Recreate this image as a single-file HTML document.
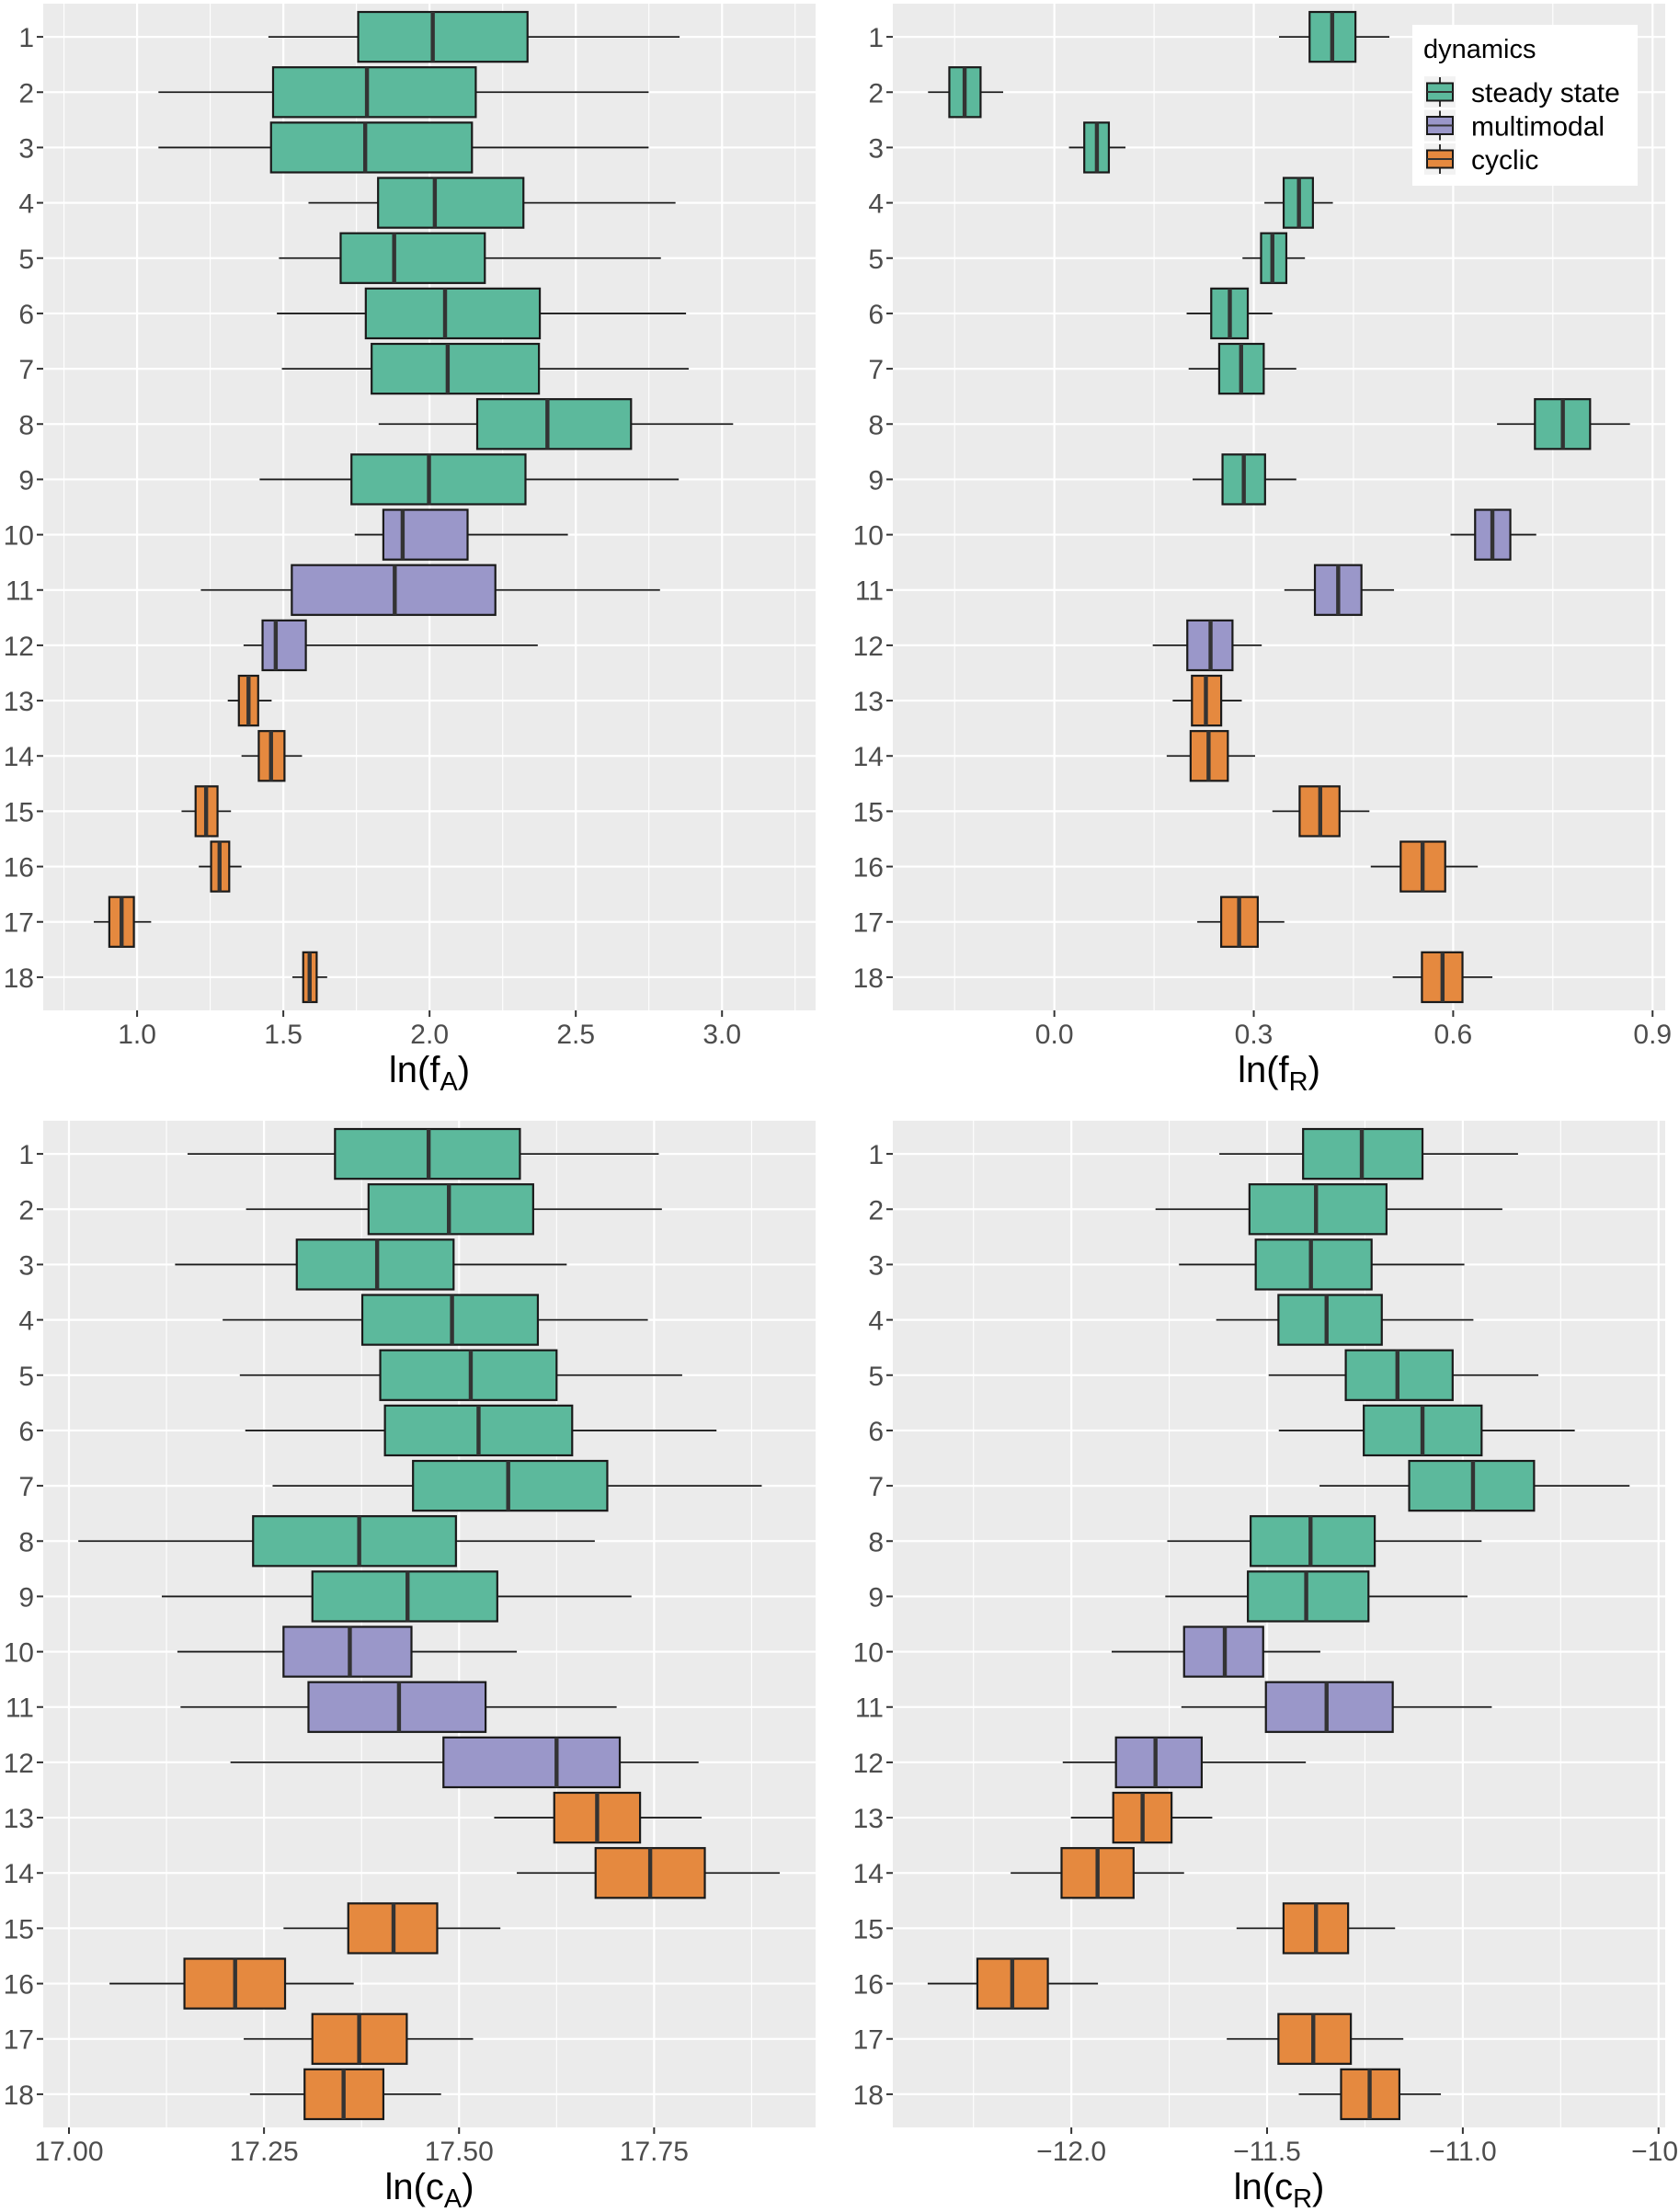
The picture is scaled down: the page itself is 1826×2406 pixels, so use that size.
<!DOCTYPE html>
<html><head><meta charset="utf-8">
<style>
html,body{margin:0;padding:0;background:#fff;}
svg{display:block;font-family:"Liberation Sans",Arial,sans-serif;}
</style></head>
<body>
<svg id="chart" width="1826" height="2406" viewBox="0 0 1826 2406" xmlns="http://www.w3.org/2000/svg"></svg>
<script>
// dynamics class per row (1..18)
const rows = ["1","2","3","4","5","6","7","8","9","10","11","12","13","14","15","16","17","18"];
const dyn = ["s","s","s","s","s","s","s","s","s","m","m","m","c","c","c","c","c","c"];

// Panel A: ln(fA)
const fA_lo  = [1.449,1.073,1.073,1.586,1.485,1.478,1.495,1.826,1.419,1.744,1.218,1.364,1.310,1.357,1.152,1.211,0.852,1.531];
const fA_q1  = [1.756,1.465,1.458,1.824,1.696,1.782,1.802,2.163,1.733,1.842,1.529,1.429,1.348,1.416,1.200,1.253,0.905,1.568];
const fA_med = [2.011,1.786,1.780,2.018,1.879,2.053,2.062,2.403,1.998,1.908,1.881,1.474,1.381,1.458,1.236,1.282,0.947,1.590];
const fA_q3  = [2.335,2.158,2.145,2.321,2.189,2.377,2.374,2.689,2.328,2.130,2.225,1.577,1.414,1.504,1.275,1.315,0.989,1.614];
const fA_hi  = [2.855,2.749,2.749,2.841,2.791,2.877,2.886,3.038,2.852,2.473,2.788,2.370,1.460,1.564,1.321,1.357,1.048,1.650];
const fA_ticks = [1.0,1.5,2.0,2.5,3.0];
const fA_tickLabels = ["1.0","1.5","2.0","2.5","3.0"];

// Panel B: ln(fR)
const fR_lo  = [0.338,-0.190,0.022,0.316,0.283,0.199,0.202,0.666,0.208,0.596,0.346,0.148,0.178,0.169,0.328,0.476,0.215,0.509];
const fR_q1  = [0.384,-0.158,0.045,0.345,0.311,0.236,0.248,0.723,0.253,0.633,0.392,0.200,0.207,0.205,0.369,0.521,0.251,0.553];
const fR_med = [0.418,-0.135,0.064,0.368,0.328,0.264,0.281,0.765,0.285,0.659,0.427,0.235,0.228,0.232,0.400,0.554,0.278,0.584];
const fR_q3  = [0.453,-0.111,0.082,0.389,0.349,0.291,0.315,0.806,0.317,0.686,0.462,0.268,0.251,0.261,0.429,0.588,0.306,0.614];
const fR_hi  = [0.504,-0.077,0.107,0.419,0.377,0.328,0.364,0.866,0.364,0.725,0.511,0.312,0.282,0.302,0.474,0.637,0.346,0.659];
const fR_ticks = [0.0,0.3,0.6,0.9];
const fR_tickLabels = ["0.0","0.3","0.6","0.9"];

// Panel C: ln(cA)
const cA_lo  = [17.152,17.227,17.136,17.197,17.219,17.226,17.261,17.012,17.119,17.139,17.143,17.207,17.545,17.574,17.275,17.052,17.224,17.232];
const cA_q1  = [17.341,17.384,17.292,17.376,17.399,17.405,17.441,17.236,17.312,17.275,17.307,17.480,17.622,17.675,17.358,17.148,17.312,17.302];
const cA_med = [17.461,17.487,17.395,17.491,17.515,17.525,17.563,17.372,17.434,17.360,17.423,17.625,17.677,17.745,17.416,17.213,17.372,17.352];
const cA_q3  = [17.578,17.595,17.493,17.601,17.625,17.645,17.690,17.496,17.549,17.439,17.534,17.706,17.732,17.815,17.472,17.277,17.433,17.403];
const cA_hi  = [17.756,17.760,17.638,17.742,17.786,17.830,17.888,17.674,17.721,17.574,17.702,17.807,17.811,17.911,17.553,17.365,17.518,17.477];
const cA_ticks = [17.00,17.25,17.50,17.75];
const cA_tickLabels = ["17.00","17.25","17.50","17.75"];

// Panel D: ln(cR)
const cR_lo  = [-11.622,-11.785,-11.725,-11.630,-11.496,-11.470,-11.366,-11.755,-11.760,-11.897,-11.719,-12.022,-12.001,-12.155,-11.578,-12.367,-11.603,-11.419];
const cR_q1  = [-11.408,-11.545,-11.529,-11.471,-11.299,-11.253,-11.137,-11.542,-11.549,-11.712,-11.503,-11.886,-11.893,-12.025,-11.458,-12.240,-11.471,-11.311];
const cR_med = [-11.258,-11.375,-11.388,-11.348,-11.167,-11.103,-10.974,-11.389,-11.400,-11.608,-11.348,-11.785,-11.818,-11.933,-11.375,-12.151,-11.382,-11.238];
const cR_q3  = [-11.103,-11.195,-11.233,-11.207,-11.026,-10.952,-10.818,-11.225,-11.241,-11.510,-11.179,-11.667,-11.744,-11.841,-11.293,-12.060,-11.286,-11.162];
const cR_hi  = [-10.859,-10.899,-10.996,-10.973,-10.807,-10.714,-10.574,-10.952,-10.988,-11.364,-10.926,-11.401,-11.640,-11.712,-11.173,-11.932,-11.152,-11.056];
const cR_ticks = [-12.0,-11.5,-11.0,-10.5];
const cR_tickLabels = ["\u221212.0","\u221211.5","\u221211.0","\u221210."];

const legendLabels = ["steady state","multimodal","cyclic"];
const fills = {s:"#5cb99c", m:"#9a97c9", c:"#e5893f"};

const NS = "http://www.w3.org/2000/svg";
const svg = document.getElementById("chart");
function mk(tag, attrs, parent){
  const e = document.createElementNS(NS, tag);
  for (const k in attrs) e.setAttribute(k, attrs[k]);
  (parent||svg).appendChild(e);
  return e;
}

function panel(name, px0, px1, py0, py1, dmin, dmax, lo, q1, med, q3, hi, ticks, tickLabels, titleMain, titleSub){
  const g = mk("g", {});
  
  
  const bg = mk("rect", {x:px0, y:py0, width:px1-px0, height:py1-py0, fill:"#ebebeb"}, g);
  
  
  const xs = v => px0 + (v - dmin) / (dmax - dmin) * (px1 - px0);
  const step = (py1 - py0) / (rows.length - 1 + 1.2);
  const ys = i => py0 + step * (0.6 + i);
  for (let i = 0; i < ticks.length + 1; i++) {
    const d = ticks[1] - ticks[0];
    const v = ticks[0] - d/2 + i*d;
    const x = xs(v);
    if (x > px0 && x < px1) {
      const l = mk("line", {x1:x, x2:x, y1:py0, y2:py1, stroke:"#fff", "stroke-width":1.1}, g);
      
      
    }
  }
  ticks.forEach((v, i) => {
    const x = xs(v);
    if (x <= px1 + 0.5) {
      const l = mk("line", {x1:x, x2:x, y1:py0, y2:py1, stroke:"#fff", "stroke-width":2.2}, g);
      
      
      const t = mk("line", {x1:x, x2:x, y1:py1, y2:py1+7, stroke:"#333", "stroke-width":2}, g);
      
      
    }
    const lab = mk("text", {x:x, y:py1+36, "font-size":30, fill:"#4d4d4d", "text-anchor":"middle"}, g);
    lab.textContent = tickLabels[i];
    
    
  });
  rows.forEach((r, i) => {
    const y = ys(i);
    const l = mk("line", {x1:px0, x2:px1, y1:y, y2:y, stroke:"#fff", "stroke-width":2.2}, g);
    
    
    const t = mk("line", {x1:px0-7, x2:px0, y1:y, y2:y, stroke:"#333", "stroke-width":2}, g);
    
    
    const lab = mk("text", {x:px0-10, y:y+11, "font-size":30, fill:"#4d4d4d", "text-anchor":"end"}, g);
    lab.textContent = r;
    
    
  });
  const bh = step * 0.9;
  rows.forEach((r, i) => {
    const y = ys(i);
    const bg2 = mk("g", {}, g);
    
    
    const w = mk("line", {x1:xs(lo[i]), x2:xs(hi[i]), y1:y, y2:y, stroke:"#1a1a1a", "stroke-width":1.8}, bg2);
    
    
    const b = mk("rect", {x:xs(q1[i]), y:y-bh/2, width:xs(q3[i])-xs(q1[i]), height:bh, fill:fills[dyn[i]], stroke:"#1a1a1a", "stroke-width":2.2}, bg2);
    
    
    const m = mk("line", {x1:xs(med[i]), x2:xs(med[i]), y1:y-bh/2, y2:y+bh/2, stroke:"#333", "stroke-width":4.4}, bg2);
    
    
  });
  const tt = mk("text", {x:(px0+px1)/2, y:py1+78, "font-size":40, fill:"#000", "text-anchor":"middle"}, g);
  
  
  tt.appendChild(document.createTextNode(titleMain));
  const sub = document.createElementNS(NS, "tspan");
  sub.setAttribute("font-size", 29); sub.setAttribute("dy", 9);
  sub.textContent = titleSub;
  tt.appendChild(sub);
  const cl = document.createElementNS(NS, "tspan");
  cl.setAttribute("dy", -9);
  cl.textContent = ")";
  tt.appendChild(cl);
}

panel("fa", 47, 887, 4, 1099, 0.679, 3.320, fA_lo, fA_q1, fA_med, fA_q3, fA_hi, fA_ticks, fA_tickLabels, "ln(f", "A");
panel("fr", 971, 1811, 4, 1099, -0.243, 0.919, fR_lo, fR_q1, fR_med, fR_q3, fR_hi, fR_ticks, fR_tickLabels, "ln(f", "R");
panel("ca", 47, 887, 1219, 2314, 16.967, 17.957, cA_lo, cA_q1, cA_med, cA_q3, cA_hi, cA_ticks, cA_tickLabels, "ln(c", "A");
panel("cr", 971, 1811, 1219, 2314, -12.456, -10.483, cR_lo, cR_q1, cR_med, cR_q3, cR_hi, cR_ticks, cR_tickLabels, "ln(c", "R");

// legend
const lg = mk("g", {});


const lr = mk("rect", {x:1536, y:27, width:245, height:175, fill:"#fff"}, lg);


const lt = mk("text", {x:1548, y:63, "font-size":29, fill:"#000"}, lg);
lt.textContent = "dynamics";


["s","m","c"].forEach((k, i) => {
  const cy = 100 + i*36.5;
  const e = mk("g", {}, lg);
  
  
  const kb = mk("rect", {x:1549, y:cy-17, width:34, height:34, fill:"#f2f2f2"}, e);
  
  
  const vl = mk("line", {x1:1566, x2:1566, y1:cy-16, y2:cy+16, stroke:"#1a1a1a", "stroke-width":1.8}, e);
  
  
  const kr = mk("rect", {x:1552, y:cy-9.5, width:28, height:19, fill:fills[k], stroke:"#1a1a1a", "stroke-width":2}, e);
  
  
  const km = mk("line", {x1:1552, x2:1580, y1:cy, y2:cy, stroke:"#333", "stroke-width":2}, e);
  
  
  const tx = mk("text", {x:1600, y:cy+11, "font-size":30, fill:"#000"}, e);
  tx.textContent = legendLabels[i];
  
  
});
</script>
</body></html>
